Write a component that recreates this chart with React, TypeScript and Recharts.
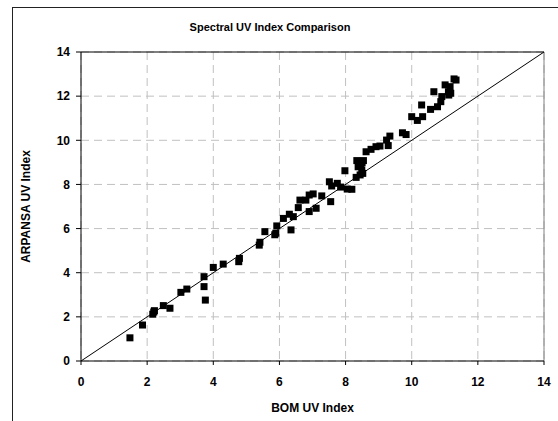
import React from "react"
import {
  CartesianGrid,
  Label,
  ReferenceLine,
  Scatter,
  ScatterChart,
  XAxis,
  YAxis,
} from "recharts"

// BOM (x) vs ARPANSA (y) spectral UV index readings
const bomUv = [
  1.48, 1.86, 2.17, 2.2, 2.22, 2.49, 2.69, 3.02, 3.2, 3.72, 3.72, 3.76, 4.0, 4.3,
  4.77, 4.79, 5.39, 5.41, 5.56, 5.86, 5.89, 5.92, 6.12, 6.3, 6.42, 6.35, 6.57,
  6.62, 6.8, 6.9, 7.02, 6.9, 7.11, 7.28, 7.55, 7.51, 7.58, 7.75, 7.85, 7.98, 8.05,
  8.19, 8.32, 8.44, 8.52, 8.34, 8.54, 8.46, 8.49, 8.38, 8.5, 8.62, 8.77, 8.92,
  9.04, 9.24, 9.29, 9.34, 9.72, 9.83, 10.0, 10.17, 10.33, 10.3, 10.57, 10.78,
  10.67, 10.88, 10.91, 11.01, 11.16, 11.11, 11.18, 11.34, 11.28, 11.12,
]
const arpansaUv = [
  1.05, 1.63, 2.12, 2.22, 2.28, 2.51, 2.39, 3.11, 3.26, 3.82, 3.37, 2.76, 4.24, 4.39,
  4.5, 4.65, 5.25, 5.38, 5.86, 5.72, 5.79, 6.12, 6.46, 6.65, 6.54, 5.94, 6.95,
  7.29, 7.29, 7.52, 7.57, 6.77, 6.92, 7.48, 7.22, 8.12, 7.93, 8.05, 7.88, 8.62, 7.79,
  7.78, 8.32, 8.43, 8.5, 9.08, 9.08, 8.84, 8.65, 8.8, 8.98, 9.48, 9.59, 9.71,
  9.74, 10.01, 9.76, 10.19, 10.34, 10.26, 11.07, 10.9, 11.07, 11.6, 11.4, 11.52,
  12.2, 11.75, 11.98, 12.51, 12.43, 12.2, 12.13, 12.73, 12.78, 12.05,
]
const ticks = [0, 2, 4, 6, 8, 10, 12, 14]

const points = bomUv.map((x, i) => ({ x, y: arpansaUv[i] }))

const font = "Arial, 'Liberation Sans', sans-serif"
const tickStyle = { fill: "#000", fontSize: 12, fontWeight: 700, fontFamily: font }

const SquareDot = (props: any) => (
  <rect x={props.cx - 3.5} y={props.cy - 3.5} width={7} height={7} fill="#000" />
)

export default function App() {
  return (
    <div
      style={{
        position: "absolute",
        left: 0,
        top: 0,
        width: 558,
        height: 421,
        background: "#fff",
        overflow: "hidden",
        fontFamily: font,
      }}
    >
      <div
        style={{
          position: "absolute",
          left: 12,
          top: 7,
          width: 700,
          height: 600,
          border: "1px solid #222",
        }}
      />
      <div
        style={{
          position: "absolute",
          left: 0,
          width: 540,
          top: 21,
          textAlign: "center",
          fontSize: 11,
          fontWeight: 700,
        }}
      >
        Spectral UV Index Comparison
      </div>
      <div style={{ position: "absolute", left: 0, top: 0 }}>
        <ScatterChart
          width={558}
          height={421}
          margin={{ top: 52, right: 14, bottom: 0, left: 0 }}
        >
          <CartesianGrid stroke="#c0c0c0" strokeDasharray="8 5" />
          <XAxis
            type="number"
            dataKey="x"
            domain={[0, 14]}
            ticks={ticks}
            height={60}
            tickSize={4}
            tickMargin={12}
            stroke="#000"
            tick={tickStyle}
            interval={0}
          >
            <Label
              value="BOM UV Index"
              position="insideBottom"
              offset={9}
              style={{ fill: "#000", fontSize: 12, fontWeight: 700, fontFamily: font }}
            />
          </XAxis>
          <YAxis
            type="number"
            dataKey="y"
            domain={[0, 14]}
            ticks={ticks}
            width={81}
            tickSize={5}
            tickMargin={6}
            stroke="#000"
            tick={tickStyle}
            interval={0}
          >
            <Label
              value="ARPANSA UV Index"
              angle={-90}
              position="center"
              dx={-15}
              style={{ fill: "#000", fontSize: 12, fontWeight: 700, fontFamily: font, textAnchor: "middle" }}
            />
          </YAxis>
          <ReferenceLine y={14} stroke="#000" />
          <ReferenceLine x={14} stroke="#808080" />
          <ReferenceLine
            segment={[
              { x: 0, y: 0 },
              { x: 14, y: 14 },
            ]}
            stroke="#000"
            strokeWidth={1}
          />
          <Scatter data={points} shape={SquareDot} isAnimationActive={false} />
        </ScatterChart>
      </div>
    </div>
  )
}
